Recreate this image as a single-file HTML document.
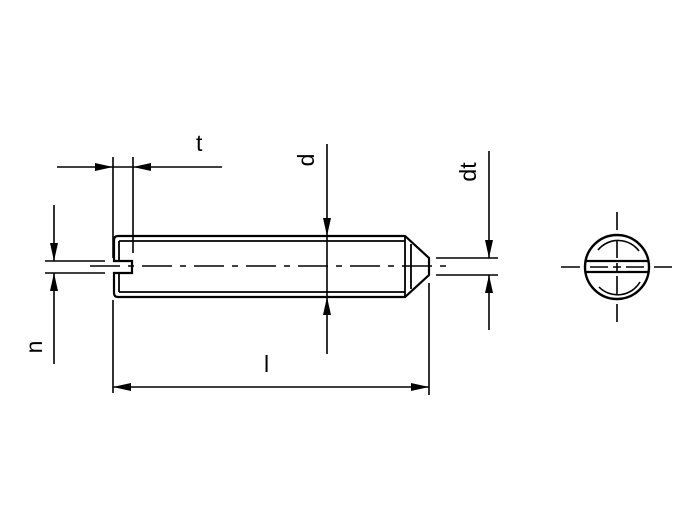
<!DOCTYPE html>
<html><head><style>body{margin:0;background:#fff}svg{display:block}text{font-family:"Liberation Sans",sans-serif;font-size:23px;fill:#000}</style></head>
<body>
<svg width="694" height="530" viewBox="0 0 694 530" xmlns="http://www.w3.org/2000/svg">
<g stroke="#000" fill="none" stroke-width="2.2">
<path d="M118 236 L405 236 L429 258 L429 275 L405 297 L118 297 Q114 297 114 293 L114 273 L132 273 L132 261 L114 261 L114 240 Q114 236 118 236 Z"/>
<line x1="119" y1="241" x2="405" y2="241" stroke-width="1.8"/>
<line x1="119" y1="292" x2="405" y2="292" stroke-width="1.8"/>
<line x1="119" y1="241" x2="119" y2="261" stroke-width="1.8"/>
<line x1="119" y1="273" x2="119" y2="292" stroke-width="1.8"/>
<line x1="405" y1="236" x2="405" y2="297" stroke-width="1.8"/>
<line x1="411" y1="244" x2="411" y2="289" stroke-width="1.8"/>
</g>
<g stroke="#000" stroke-width="1.6" fill="none">
<line x1="90" y1="266" x2="453" y2="266" stroke-dasharray="30,8,6,8"/>
<line x1="57" y1="167" x2="222" y2="167"/>
<line x1="113" y1="157" x2="113" y2="258"/>
<line x1="133" y1="157" x2="133" y2="253"/>
<line x1="45" y1="261" x2="105" y2="261"/>
<line x1="45" y1="273" x2="105" y2="273"/>
<line x1="54" y1="205" x2="54" y2="261"/>
<line x1="54" y1="273" x2="54" y2="364"/>
<line x1="113" y1="300" x2="113" y2="393"/>
<line x1="429" y1="283" x2="429" y2="395"/>
<line x1="113" y1="387" x2="429" y2="387"/>
<line x1="327" y1="144" x2="327" y2="354"/>
<line x1="436" y1="258" x2="498" y2="258"/>
<line x1="436" y1="275" x2="498" y2="275"/>
<line x1="489" y1="151" x2="489" y2="258"/>
<line x1="489" y1="275" x2="489" y2="330"/>
<path d="M561 267 H580 M590 267 H608 M613 267 H621 M626 267 H644 M654 267 H672"/>
<path d="M617 212 V230 M617 240 V258 M617 263 V271 M617 276 V294 M617 304 V322"/>
</g>
<g fill="#000">
<polygon points="113,167 95,163 95,171"/>
<polygon points="133,167 151,163 151,171"/>
<polygon points="54,261 50,243 58,243"/>
<polygon points="54,273 50,291 58,291"/>
<polygon points="113,387 131,383 131,391"/>
<polygon points="429,387 411,383 411,391"/>
<polygon points="327,236 323,218 331,218"/>
<polygon points="327,297 323,315 331,315"/>
<polygon points="489,258 485,240 493,240"/>
<polygon points="489,275 485,293 493,293"/>
</g>
<g stroke="#000" fill="none">
<circle cx="617" cy="267" r="32" stroke-width="2.4"/>
<path d="M599 287 A26 26 0 0 0 640 282" stroke-width="1.6"/>
<path d="M598 250 A26 26 0 0 1 639 251" stroke-width="1.6"/>
<line x1="586" y1="261" x2="648" y2="261" stroke-width="2.2"/>
<line x1="586" y1="272" x2="648" y2="272" stroke-width="2.2"/>
</g>
<text x="196" y="151">t</text>
<text x="264" y="372">l</text>
<text transform="translate(314,160) rotate(-90)" text-anchor="middle">d</text>
<text transform="translate(42,347) rotate(-90)" text-anchor="middle">n</text>
<text transform="translate(476,172) rotate(-90)" text-anchor="middle">dt</text>
</svg>
</body></html>
